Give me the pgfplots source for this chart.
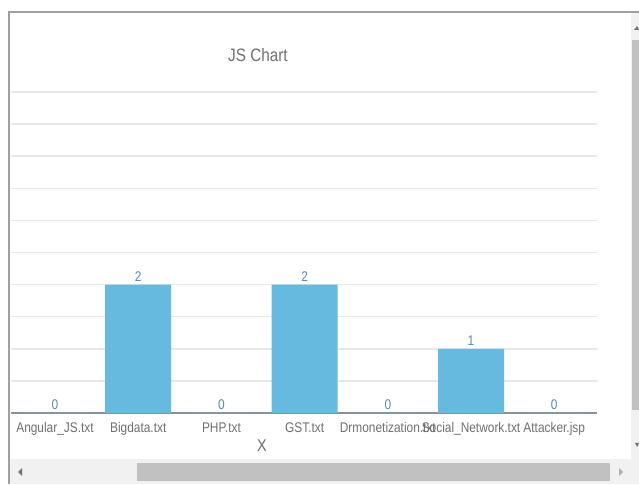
\documentclass[border=0pt]{standalone}
\usepackage{pgfplots}
\pgfplotsset{compat=1.18}
\usepackage{fontspec}
\setmainfont{Liberation Sans}[FakeStretch=0.85]
\definecolor{barblue}{HTML}{66B9DF}
\definecolor{valblue}{HTML}{5A88B8}
\definecolor{txtgray}{HTML}{707070}
\definecolor{gridgray}{HTML}{E8E8E8}
\definecolor{axgray}{HTML}{8A9199}
\definecolor{framegray}{HTML}{A0A0A0}
\definecolor{trackgray}{HTML}{F1F1F1}
\definecolor{thumbgray}{HTML}{C1C1C1}
\begin{document}
\begin{tikzpicture}[x=1pt,y=1pt]
\useasboundingbox (0,0) rectangle (639,484);
\fill[white] (0,0) rectangle (639,484);
% frame
\draw[framegray,line width=2pt] (9,0) -- (9,472) -- (639,472);
% right scrollbar
\fill[trackgray] (631,0) rectangle (639,471);
\fill[thumbgray] (632,74) rectangle (639,444);
\fill[txtgray] (634,454) -- (637,458) -- (639,454) -- cycle;
\fill[txtgray] (635,41) -- (639,41) -- (637,37) -- cycle;
% bottom scrollbar
\fill[trackgray] (10,0) rectangle (631,25);
\fill[thumbgray] (137,3) rectangle (610,21);
\fill[txtgray] (18,12) -- (22,16) -- (22,8) -- cycle;
\fill[gray!60] (623,12) -- (619,16) -- (619,8) -- cycle;
\begin{axis}[
  at={(11pt,71pt)}, anchor=south west,
  scale only axis, width=586pt, height=321pt,
  xmin=-0.529, xmax=6.514, ymin=0, ymax=5,
  axis line style={draw=none},
  axis x line*=bottom,
  x axis line style={draw=axgray,line width=2pt},
  y axis line style={draw=none},
  ytick={0.5,1,...,5}, yticklabels={},
  ymajorgrids, major grid style={gridgray,line width=1.5pt},
  xtick={0,...,6},
  xticklabels={Angular\_JS.txt,Bigdata.txt,PHP.txt,GST.txt,Drmonetization.txt,Social\_Network.txt,Attacker.jsp},
  major tick length=0pt,
  xticklabel style={font=\fontsize{14}{16}\selectfont,text=txtgray,yshift=-6pt},
  /pgf/number format/assume math mode=true,
  nodes near coords,
  nodes near coords style={font=\fontsize{14}{16}\selectfont,text=valblue,yshift=0pt},
  clip=false,
]
\addplot[ybar, bar width=66pt, fill=barblue, draw=none] coordinates {
 (0,0) (1,2) (2,0) (3,2) (4,0) (5,1) (6,0)};
\end{axis}
\node[font=\fontsize{18}{20}\selectfont,text=txtgray] at (258,429) {JS Chart};
\node[font=\fontsize{17}{20}\selectfont,text=txtgray] at (262,38) {X};
\end{tikzpicture}
\end{document}
